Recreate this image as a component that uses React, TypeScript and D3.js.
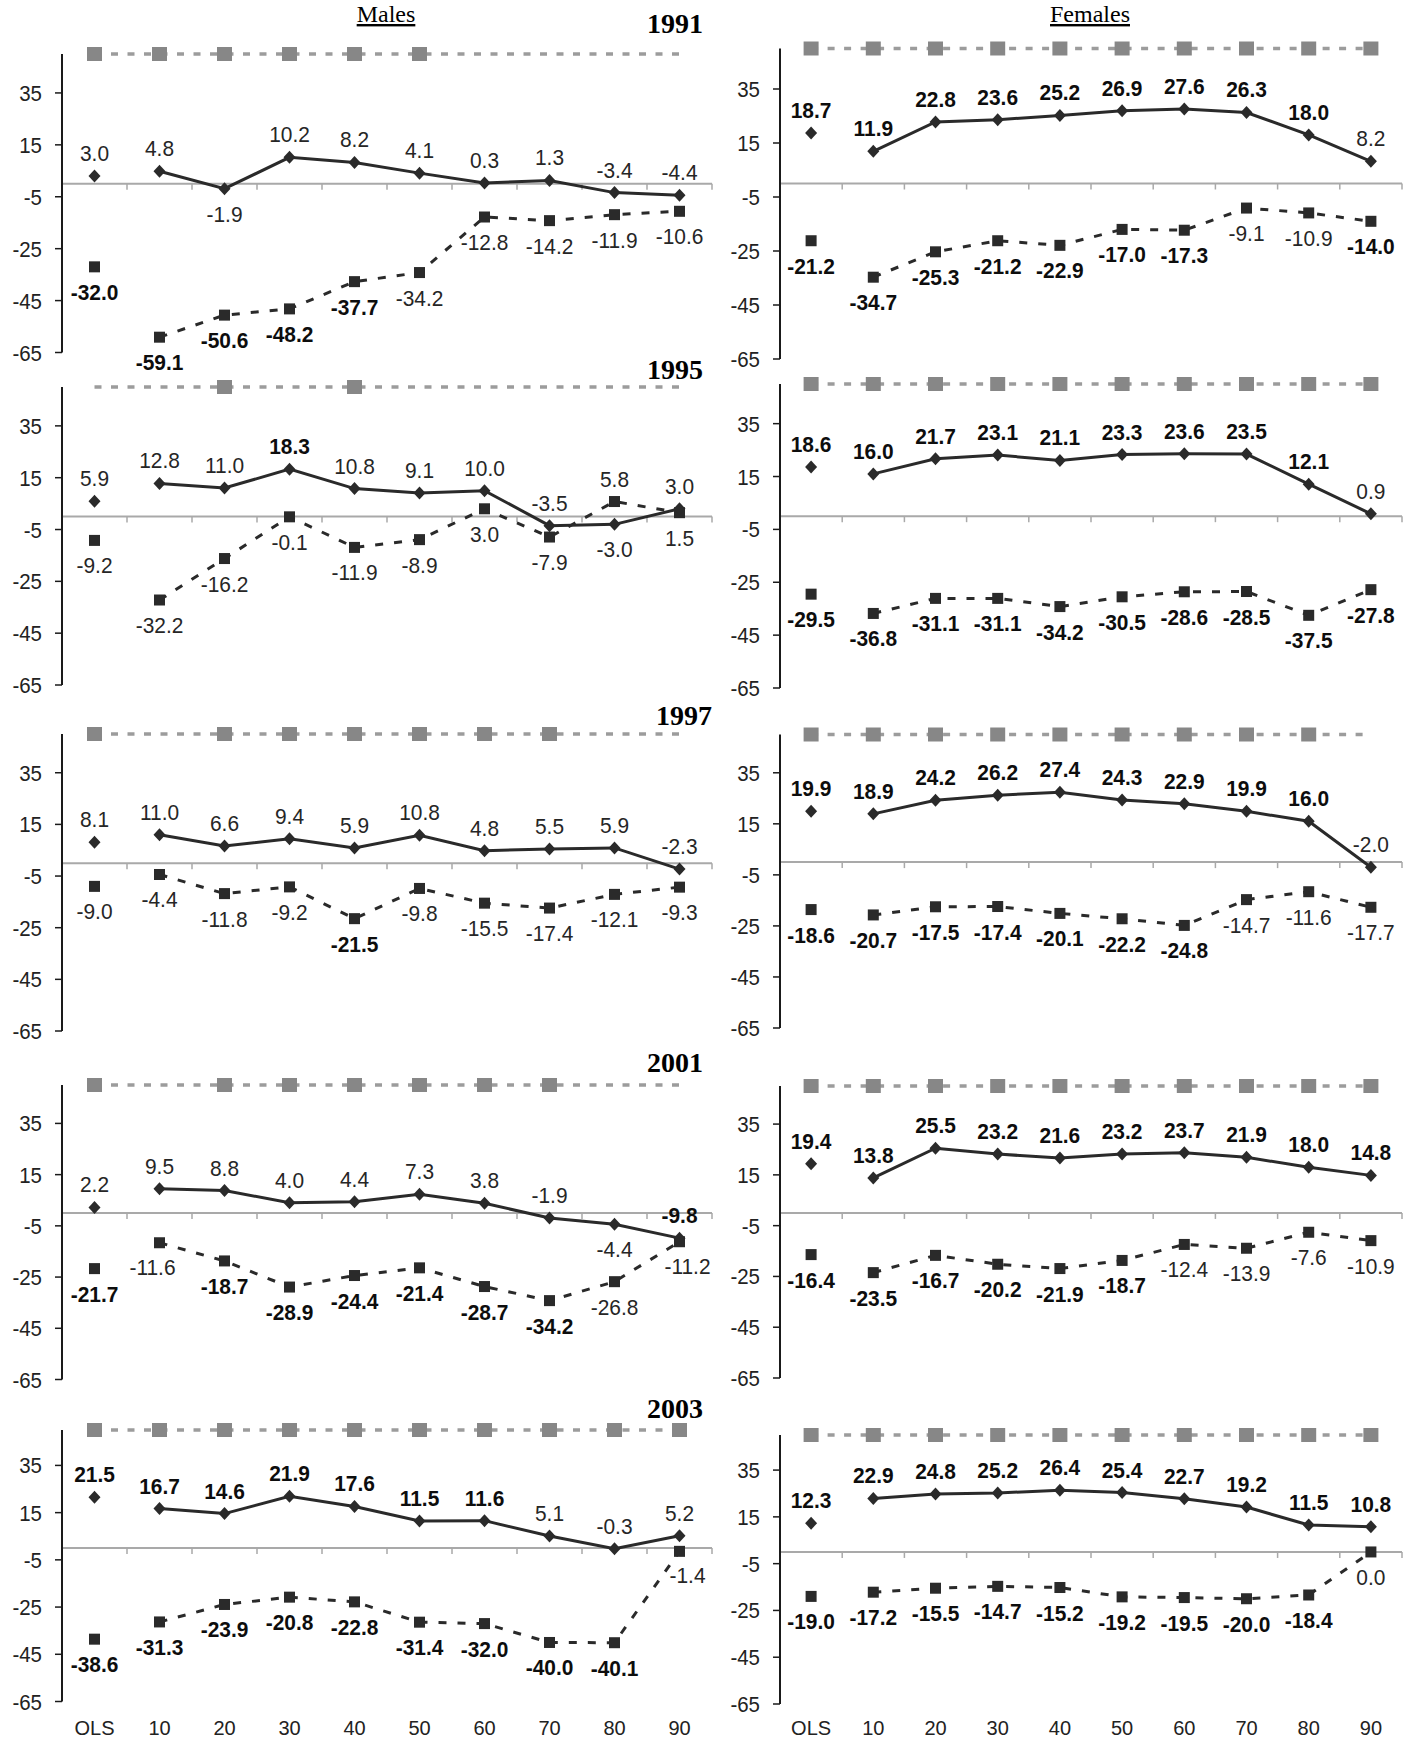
import React from "react";
import * as d3 from "d3";

// ---------- data ----------
const categories = ["OLS", "10", "20", "30", "40", "50", "60", "70", "80", "90"];
const yTicks = [35, 15, -5, -25, -45, -65];
const yDomain: [number, number] = [-65, 50];
const markerRowValue = 50;
const years = ["1991", "1995", "1997", "2001", "2003"];
const sexes = ["Males", "Females"];

// Males
const m91Dia = [3.0, 4.8, -1.9, 10.2, 8.2, 4.1, 0.3, 1.3, -3.4, -4.4];
const m91Sq = [-32.0, -59.1, -50.6, -48.2, -37.7, -34.2, -12.8, -14.2, -11.9, -10.6];
const m91DiaBold = [0, 0, 0, 0, 0, 0, 0, 0, 0, 0];
const m91SqBold = [1, 1, 1, 1, 1, 0, 0, 0, 0, 0];
const m91Sig = [1, 1, 1, 1, 1, 1, 0, 0, 0, 0];

const m95Dia = [5.9, 12.8, 11.0, 18.3, 10.8, 9.1, 10.0, -3.5, -3.0, 3.0];
const m95Sq = [-9.2, -32.2, -16.2, -0.1, -11.9, -8.9, 3.0, -7.9, 5.8, 1.5];
const m95DiaBold = [0, 0, 0, 1, 0, 0, 0, 0, 0, 0];
const m95SqBold = [0, 0, 0, 0, 0, 0, 0, 0, 0, 0];
const m95Sig = [0, 0, 1, 0, 1, 0, 0, 0, 0, 0];

const m97Dia = [8.1, 11.0, 6.6, 9.4, 5.9, 10.8, 4.8, 5.5, 5.9, -2.3];
const m97Sq = [-9.0, -4.4, -11.8, -9.2, -21.5, -9.8, -15.5, -17.4, -12.1, -9.3];
const m97DiaBold = [0, 0, 0, 0, 0, 0, 0, 0, 0, 0];
const m97SqBold = [0, 0, 0, 0, 1, 0, 0, 0, 0, 0];
const m97Sig = [1, 0, 1, 1, 1, 1, 1, 1, 0, 0];

const m01Dia = [2.2, 9.5, 8.8, 4.0, 4.4, 7.3, 3.8, -1.9, -4.4, -9.8];
const m01Sq = [-21.7, -11.6, -18.7, -28.9, -24.4, -21.4, -28.7, -34.2, -26.8, -11.2];
const m01DiaBold = [0, 0, 0, 0, 0, 0, 0, 0, 0, 1];
const m01SqBold = [1, 0, 1, 1, 1, 1, 1, 1, 0, 0];
const m01Sig = [1, 0, 1, 1, 1, 1, 1, 1, 0, 0];

const m03Dia = [21.5, 16.7, 14.6, 21.9, 17.6, 11.5, 11.6, 5.1, -0.3, 5.2];
const m03Sq = [-38.6, -31.3, -23.9, -20.8, -22.8, -31.4, -32.0, -40.0, -40.1, -1.4];
const m03DiaBold = [1, 1, 1, 1, 1, 1, 1, 0, 0, 0];
const m03SqBold = [1, 1, 1, 1, 1, 1, 1, 1, 1, 0];
const m03Sig = [1, 1, 1, 1, 1, 1, 1, 1, 1, 1];

// Females
const f91Dia = [18.7, 11.9, 22.8, 23.6, 25.2, 26.9, 27.6, 26.3, 18.0, 8.2];
const f91Sq = [-21.2, -34.7, -25.3, -21.2, -22.9, -17.0, -17.3, -9.1, -10.9, -14.0];
const f91DiaBold = [1, 1, 1, 1, 1, 1, 1, 1, 1, 0];
const f91SqBold = [1, 1, 1, 1, 1, 1, 1, 0, 0, 1];
const f91Sig = [1, 1, 1, 1, 1, 1, 1, 1, 1, 1];

const f95Dia = [18.6, 16.0, 21.7, 23.1, 21.1, 23.3, 23.6, 23.5, 12.1, 0.9];
const f95Sq = [-29.5, -36.8, -31.1, -31.1, -34.2, -30.5, -28.6, -28.5, -37.5, -27.8];
const f95DiaBold = [1, 1, 1, 1, 1, 1, 1, 1, 1, 0];
const f95SqBold = [1, 1, 1, 1, 1, 1, 1, 1, 1, 1];
const f95Sig = [1, 1, 1, 1, 1, 1, 1, 1, 1, 1];

const f97Dia = [19.9, 18.9, 24.2, 26.2, 27.4, 24.3, 22.9, 19.9, 16.0, -2.0];
const f97Sq = [-18.6, -20.7, -17.5, -17.4, -20.1, -22.2, -24.8, -14.7, -11.6, -17.7];
const f97DiaBold = [1, 1, 1, 1, 1, 1, 1, 1, 1, 0];
const f97SqBold = [1, 1, 1, 1, 1, 1, 1, 0, 0, 0];
const f97Sig = [1, 1, 1, 1, 1, 1, 1, 1, 1, 0];

const f01Dia = [19.4, 13.8, 25.5, 23.2, 21.6, 23.2, 23.7, 21.9, 18.0, 14.8];
const f01Sq = [-16.4, -23.5, -16.7, -20.2, -21.9, -18.7, -12.4, -13.9, -7.6, -10.9];
const f01DiaBold = [1, 1, 1, 1, 1, 1, 1, 1, 1, 1];
const f01SqBold = [1, 1, 1, 1, 1, 1, 0, 0, 0, 0];
const f01Sig = [1, 1, 1, 1, 1, 1, 1, 1, 1, 1];

const f03Dia = [12.3, 22.9, 24.8, 25.2, 26.4, 25.4, 22.7, 19.2, 11.5, 10.8];
const f03Sq = [-19.0, -17.2, -15.5, -14.7, -15.2, -19.2, -19.5, -20.0, -18.4, 0.0];
const f03DiaBold = [1, 1, 1, 1, 1, 1, 1, 1, 1, 1];
const f03SqBold = [1, 1, 1, 1, 1, 1, 1, 1, 1, 0];
const f03Sig = [1, 1, 1, 1, 1, 1, 1, 1, 1, 1];

// label placement (a = above, b = below, l / r = below shifted)
const m91DiaPos = "aabaaaaaaa";
const m95DiaPos = "aaaaaaaaba";
const m01DiaPos = "aaaaaaaaba";
const allAbove = "aaaaaaaaaa";
const allBelow = "bbbbbbbbbb";
const m95SqPos = "bbbbbbbbab";
const m01SqPos = "blbbbbbbbr";
const m03SqPos = "bbbbbbbbbr";

// ---------- layout ----------
const W = 1407;
const H = 1742;
const colX = [
  { x0: 62, band: 65 },
  { x0: 780, band: 62.2 },
];
const rowY = [
  [[54, 352.5], [48.5, 359]],
  [[387, 685], [384, 688]],
  [[734, 1031], [734.5, 1028]],
  [[1085, 1379.5], [1086, 1378]],
  [[1430, 1701.5], [1435, 1704]],
];
const yearRight = [703, 703, 712, 703, 703];
const yearBase = [33, 379, 725, 1072, 1418];
const titleX = [386, 1090];
const catBase = 1735;

const SANS = "'Liberation Sans', Arial, sans-serif";
const SERIF = "'Liberation Serif', 'Times New Roman', serif";
const DARK = "#2a2a2a";
const FS = 22.5;

type Panel = {
  col: number;
  row: number;
  dia: number[];
  sq: number[];
  diaBold: number[];
  sqBold: number[];
  sig: number[];
  diaPos: string;
  sqPos: string;
};

const panels: Panel[] = [
  { col: 0, row: 0, dia: m91Dia, sq: m91Sq, diaBold: m91DiaBold, sqBold: m91SqBold, sig: m91Sig, diaPos: m91DiaPos, sqPos: allBelow },
  { col: 0, row: 1, dia: m95Dia, sq: m95Sq, diaBold: m95DiaBold, sqBold: m95SqBold, sig: m95Sig, diaPos: m95DiaPos, sqPos: m95SqPos },
  { col: 0, row: 2, dia: m97Dia, sq: m97Sq, diaBold: m97DiaBold, sqBold: m97SqBold, sig: m97Sig, diaPos: allAbove, sqPos: allBelow },
  { col: 0, row: 3, dia: m01Dia, sq: m01Sq, diaBold: m01DiaBold, sqBold: m01SqBold, sig: m01Sig, diaPos: m01DiaPos, sqPos: m01SqPos },
  { col: 0, row: 4, dia: m03Dia, sq: m03Sq, diaBold: m03DiaBold, sqBold: m03SqBold, sig: m03Sig, diaPos: allAbove, sqPos: m03SqPos },
  { col: 1, row: 0, dia: f91Dia, sq: f91Sq, diaBold: f91DiaBold, sqBold: f91SqBold, sig: f91Sig, diaPos: allAbove, sqPos: allBelow },
  { col: 1, row: 1, dia: f95Dia, sq: f95Sq, diaBold: f95DiaBold, sqBold: f95SqBold, sig: f95Sig, diaPos: allAbove, sqPos: allBelow },
  { col: 1, row: 2, dia: f97Dia, sq: f97Sq, diaBold: f97DiaBold, sqBold: f97SqBold, sig: f97Sig, diaPos: allAbove, sqPos: allBelow },
  { col: 1, row: 3, dia: f01Dia, sq: f01Sq, diaBold: f01DiaBold, sqBold: f01SqBold, sig: f01Sig, diaPos: allAbove, sqPos: allBelow },
  { col: 1, row: 4, dia: f03Dia, sq: f03Sq, diaBold: f03DiaBold, sqBold: f03SqBold, sig: f03Sig, diaPos: allAbove, sqPos: allBelow },
];

const fmt = (v: number) => v.toFixed(1);

function labelOffset(code: string): [number, number] {
  switch (code) {
    case "a":
      return [0, -15];
    case "l":
      return [-7, 32];
    case "r":
      return [8, 32];
    default:
      return [0, 33];
  }
}

function Label({ x, y, text, bold, size }: { x: number; y: number; text: string; bold: boolean; size: number }) {
  return (
    <text
      transform={`translate(${x},${y}) scale(0.93,1)`}
      textAnchor="middle"
      fontFamily={SANS}
      fontSize={size}
      fontWeight={bold ? "bold" : "normal"}
      fill={bold ? "#0d0d0d" : "#262626"}
    >
      {text}
    </text>
  );
}

function PanelChart({ p }: { p: Panel }) {
  const { x0, band } = colX[p.col];
  const [top, bottom] = rowY[p.row][p.col];
  const x = d3
    .scaleBand<string>()
    .domain(categories)
    .range([x0, x0 + band * categories.length])
    .paddingInner(0)
    .paddingOuter(0);
  const cx = (c: string) => (x(c) as number) + x.bandwidth() / 2;
  const y = d3.scaleLinear().domain(yDomain).range([bottom, top]);
  const xEnd = x0 + band * categories.length;

  const sigLine = d3
    .line<string>()
    .x((c) => cx(c))
    .y(() => y(markerRowValue))(categories);

  const lineIdx = categories.slice(1);
  const diaLine = d3
    .line<string>()
    .x((c) => cx(c))
    .y((c) => y(p.dia[categories.indexOf(c)]))(lineIdx);
  const sqLine = d3
    .line<string>()
    .x((c) => cx(c))
    .y((c) => y(p.sq[categories.indexOf(c)]))(lineIdx);

  const bandTicks = d3.range(1, categories.length + 1).map((k) => x0 + k * band);

  return (
    <g>
      {/* significance row */}
      <path d={sigLine || ""} fill="none" stroke="#9c9c9c" strokeWidth={3.5} strokeDasharray="7 9.5" />
      {categories.map((c, i) =>
        p.sig[i] ? (
          <rect key={"g" + c} x={cx(c) - 7.5} y={y(markerRowValue) - 7} width={15} height={14} fill="#878787" />
        ) : null
      )}
      {/* zero line */}
      <line x1={x0} x2={xEnd} y1={y(0)} y2={y(0)} stroke="#a9a9a9" strokeWidth={2} />
      {bandTicks.map((tx, k) => (
        <line key={"bt" + k} x1={tx} x2={tx} y1={y(0)} y2={y(0) + 6} stroke="#a9a9a9" strokeWidth={1.5} />
      ))}
      {/* y axis */}
      <line x1={x0} x2={x0} y1={y(yDomain[1])} y2={y(yDomain[0])} stroke="#1a1a1a" strokeWidth={2} />
      {yTicks.map((t) => (
        <g key={"yt" + t}>
          <line x1={x0 - 7} x2={x0} y1={y(t)} y2={y(t)} stroke="#1a1a1a" strokeWidth={1.5} />
          <text
            transform={`translate(${x0 - 20},${y(t) + 8}) scale(0.93,1)`}
            textAnchor="end"
            fontFamily={SANS}
            fontSize={22}
            fill="#222"
          >
            {t}
          </text>
        </g>
      ))}
      {/* series lines */}
      <path d={sqLine || ""} fill="none" stroke={DARK} strokeWidth={3} strokeDasharray="8 11" />
      <path d={diaLine || ""} fill="none" stroke={DARK} strokeWidth={3} />
      {/* markers */}
      {categories.map((c, i) => (
        <rect key={"s" + c} x={cx(c) - 5.5} y={y(p.sq[i]) - 5.5} width={11} height={11} fill={DARK} />
      ))}
      {categories.map((c, i) => {
        const px = cx(c);
        const py = y(p.dia[i]);
        return <path key={"d" + c} d={`M${px},${py - 6.5}L${px + 6},${py}L${px},${py + 6.5}L${px - 6},${py}Z`} fill={DARK} />;
      })}
      {/* labels */}
      {categories.map((c, i) => {
        const [dx, dy] = labelOffset(p.diaPos[i]);
        return (
          <Label key={"ld" + c} x={cx(c) + dx} y={y(p.dia[i]) + dy} text={fmt(p.dia[i])} bold={!!p.diaBold[i]} size={FS} />
        );
      })}
      {categories.map((c, i) => {
        const [dx, dy] = labelOffset(p.sqPos[i]);
        return (
          <Label key={"ls" + c} x={cx(c) + dx} y={y(p.sq[i]) + dy} text={fmt(p.sq[i])} bold={!!p.sqBold[i]} size={FS} />
        );
      })}
      {/* category labels on last row */}
      {p.row === rowY.length - 1
        ? categories.map((c) => (
            <text key={"c" + c} x={cx(c)} y={catBase} textAnchor="middle" fontFamily={SANS} fontSize={20} fill="#222">
              {c}
            </text>
          ))
        : null}
    </g>
  );
}

export default function App() {
  return (
    <svg
      width={W}
      height={H}
      viewBox={`0 0 ${W} ${H}`}
      style={{ position: "absolute", left: 0, top: 0, background: "#fff" }}
    >
      <rect x={0} y={0} width={W} height={H} fill="#fff" />
      {sexes.map((s, i) => (
        <text
          key={s}
          x={titleX[i]}
          y={22}
          textAnchor="middle"
          fontFamily={SERIF}
          fontSize={24}
          fill="#000"
          style={{ textDecoration: "underline" }}
        >
          {s}
        </text>
      ))}
      {years.map((yr, i) => (
        <text
          key={yr}
          x={yearRight[i]}
          y={yearBase[i]}
          textAnchor="end"
          fontFamily={SERIF}
          fontWeight="bold"
          fontSize={28}
          fill="#000"
        >
          {yr}
        </text>
      ))}
      {panels.map((p, i) => (
        <PanelChart key={i} p={p} />
      ))}
    </svg>
  );
}
